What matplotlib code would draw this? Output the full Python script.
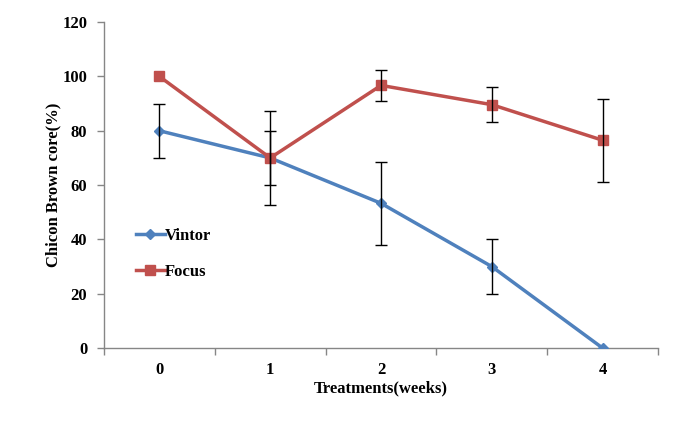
import matplotlib
matplotlib.use("Agg")
import matplotlib.pyplot as plt
from matplotlib.lines import Line2D

weeks = [0, 1, 2, 3, 4]
week_labels = ["0", "1", "2", "3", "4"]
vintor = [80, 70, 53.3, 30, 0]
vintor_err = [10, 10, 15.2, 10, 0]
focus = [100, 70, 96.7, 89.6, 76.5]
focus_err = [0, 17.3, 5.6, 6.4, 15.3]

blue = "#4F81BD"
red = "#C0504D"
axis_gray = "#868686"

plt.rcParams['font.family'] = ['Liberation Serif', 'DejaVu Serif']

fig = plt.figure(figsize=(6.75, 4.33), dpi=100)
ax = fig.add_axes([0.154, 0.196, 0.821, 0.753])

ax.plot(weeks, vintor, color=blue, lw=2.5, marker='D', markersize=5, zorder=3)
ax.plot(weeks, focus, color=red, lw=2.5, marker='s', markersize=7.5, zorder=3)

for ys, es in [(vintor, vintor_err), (focus, focus_err)]:
    idx = [i for i, e in enumerate(es) if e > 0]
    ax.errorbar([weeks[i] for i in idx], [ys[i] for i in idx],
                yerr=[es[i] for i in idx], fmt='none', ecolor='black',
                elinewidth=1, capsize=4, capthick=1, zorder=4)

ax.set_xlim(-0.5, 4.5)
ax.set_ylim(0, 120)
ax.set_yticks(range(0, 121, 20))
ax.set_xticks(weeks)
ax.set_xticklabels(week_labels)
ax.set_xticks([-0.5, 0.5, 1.5, 2.5, 3.5, 4.5], minor=True)
ax.tick_params(axis='x', which='major', length=0, pad=10)
ax.tick_params(axis='x', which='minor', length=5, color=axis_gray, width=1)
ax.tick_params(axis='y', length=5, color=axis_gray, width=1, pad=7)
for lab in ax.get_xticklabels() + ax.get_yticklabels():
    lab.set_fontweight('bold')
    lab.set_fontsize(12)

for s in ['top', 'right']:
    ax.spines[s].set_visible(False)
for s in ['left', 'bottom']:
    ax.spines[s].set_color(axis_gray)
    ax.spines[s].set_linewidth(1)

ax.set_xlabel("Treatments(weeks)", fontsize=12, fontweight='bold', labelpad=2)
ax.set_ylabel("Chicon Brown core(%)", fontsize=12, fontweight='bold', labelpad=1)

handles = [Line2D([], [], color=blue, lw=2.5, marker='D', markersize=5),
           Line2D([], [], color=red, lw=2.5, marker='s', markersize=7.5)]
leg = ax.legend(handles, ['Vintor', 'Focus'], loc='upper left',
                bbox_to_anchor=(0.03, 0.415), frameon=False,
                prop={'weight': 'bold', 'size': 12}, handlelength=1.75,
                handletextpad=0.0, labelspacing=1.2)

fig.savefig("out.png", dpi=100)
